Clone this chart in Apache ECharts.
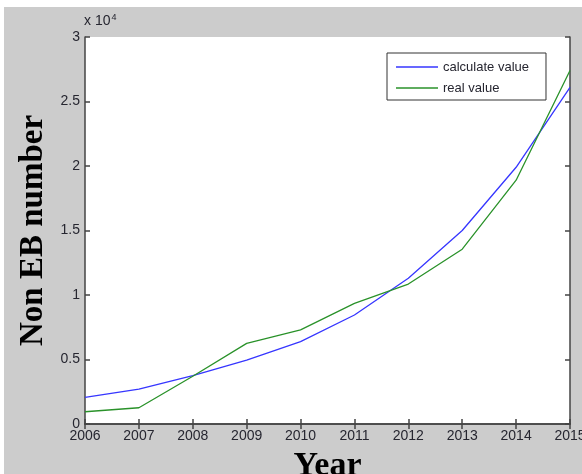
<!DOCTYPE html>
<html>
<head>
<meta charset="utf-8">
<script src="https://cdn.jsdelivr.net/npm/echarts@6/dist/echarts.min.js"></script>
<style>
  html, body { margin: 0; padding: 0; background: #ffffff; }
  #chart { width: 582px; height: 474px; }
</style>
</head>
<body>
<div id="chart"></div>
<script>
// Yearly counts of non-EB entries: model output vs. observed
const years = [2006, 2007, 2008, 2009, 2010, 2011, 2012, 2013, 2014, 2015];
const calculateValue = [2070, 2700, 3750, 4950, 6380, 8450, 11300, 15000, 19900, 26100];
const realValue = [950, 1260, 3700, 6250, 7300, 9350, 10850, 13550, 18900, 27400];
const yTicks = [0, 5000, 10000, 15000, 20000, 25000, 30000];
const seriesNames = ['calculate value', 'real value'];
const seriesColors = ['#3636ff', '#2a922a'];

const sansFamily = 'Liberation Sans, Arial, sans-serif';
const serifFamily = 'Liberation Serif, Times New Roman, serif';
const labelFont = { fontFamily: sansFamily, fontSize: 14, color: '#262630' };
const axisLine = { show: true, lineStyle: { color: '#444444', width: 1.5 } };
const tickIn = { show: true, inside: true, length: 5, lineStyle: { color: '#444444', width: 1.5 } };

const chart = echarts.init(document.getElementById('chart'), null, { renderer: 'canvas' });

chart.setOption({
  backgroundColor: '#cccccc',
  animation: false,
  graphic: [
    { type: 'rect', left: 0, top: 0, shape: { width: 582, height: 7 }, style: { fill: '#ffffff' }, silent: true },
    { type: 'rect', left: 0, top: 0, shape: { width: 4, height: 474 }, style: { fill: '#ffffff' }, silent: true },
    {
      type: 'text', left: 84, top: 13,
      style: {
        text: '{b|x 10}{s|4}',
        rich: {
          b: { fontFamily: sansFamily, fontSize: 14, fill: '#262630' },
          s: { fontFamily: sansFamily, fontSize: 9, fill: '#262630', verticalAlign: 'top', padding: [0, 0, 8, 1] }
        }
      }
    }
  ],
  grid: {
    left: 85, right: 12, top: 37, bottom: 50,
    containLabel: false,
    outerBoundsMode: 'none',
    show: true, backgroundColor: '#ffffff', borderWidth: 0
  },
  legend: {
    data: seriesNames.map(n => ({ name: n, icon: 'rect' })),
    orient: 'vertical',
    left: 387, top: 53,
    backgroundColor: '#ffffff',
    borderColor: '#333333', borderWidth: 1, borderRadius: 0,
    padding: [7, 17, 5, 9],
    itemGap: 7,
    itemWidth: 42, itemHeight: 1.5,
    textStyle: { fontFamily: sansFamily, fontSize: 13, color: '#262630', lineHeight: 14 }
  },
  xAxis: [
    {
      type: 'value', position: 'bottom',
      min: years[0], max: years[years.length - 1], interval: 1,
      axisLine: axisLine, axisTick: tickIn, splitLine: { show: false },
      axisLabel: Object.assign({ margin: 5, formatter: v => String(v) }, labelFont),
      name: 'Year', nameLocation: 'middle', nameGap: 25,
      nameTextStyle: { fontFamily: serifFamily, fontWeight: 'bold', fontSize: 34, color: '#000000' }
    },
    {
      type: 'value', position: 'top',
      min: years[0], max: years[years.length - 1], interval: 1,
      axisLine: axisLine, axisTick: tickIn, splitLine: { show: false },
      axisLabel: { show: false }
    }
  ],
  yAxis: [
    {
      type: 'value', position: 'left',
      min: yTicks[0], max: yTicks[yTicks.length - 1], interval: yTicks[1] - yTicks[0],
      axisLine: axisLine, axisTick: tickIn, splitLine: { show: false },
      axisLabel: Object.assign({ margin: 5, formatter: v => String(v / 10000) }, labelFont),
      name: 'Non EB number', nameLocation: 'middle', nameGap: 30, nameRotate: 90,
      nameTextStyle: { fontFamily: serifFamily, fontWeight: 'bold', fontSize: 33, color: '#000000' }
    },
    {
      type: 'value', position: 'right',
      min: yTicks[0], max: yTicks[yTicks.length - 1], interval: yTicks[1] - yTicks[0],
      axisLine: axisLine, axisTick: tickIn, splitLine: { show: false },
      axisLabel: { show: false }
    }
  ],
  series: [
    {
      name: seriesNames[0], type: 'line', xAxisIndex: 0, yAxisIndex: 0,
      data: years.map((y, i) => [y, calculateValue[i]]),
      symbol: 'none', lineStyle: { color: seriesColors[0], width: 1.3 }, itemStyle: { color: seriesColors[0] }
    },
    {
      name: seriesNames[1], type: 'line', xAxisIndex: 0, yAxisIndex: 0,
      data: years.map((y, i) => [y, realValue[i]]),
      symbol: 'none', lineStyle: { color: seriesColors[1], width: 1.3 }, itemStyle: { color: seriesColors[1] }
    }
  ]
});
</script>
</body>
</html>
